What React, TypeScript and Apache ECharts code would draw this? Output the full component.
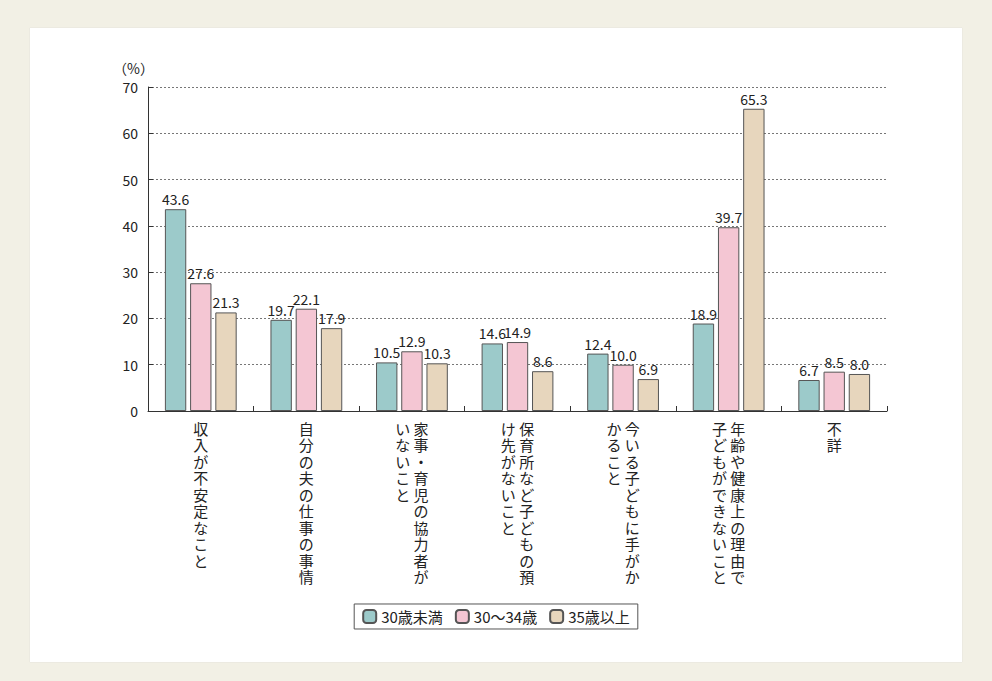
import { useEffect, useRef } from "react";
import * as echarts from "echarts";

const categories = [
  ["収入が不安定なこと"],
  ["自分の夫の仕事の事情"],
  ["家事・育児の協力者が", "いないこと"],
  ["保育所など子どもの預", "け先がないこと"],
  ["今いる子どもに手がか", "かること"],
  ["年齢や健康上の理由で", "子どもができないこと"],
  ["不詳"],
];
const seriesNames = ["30歳未満", "30～34歳", "35歳以上"];
const under30 = [43.6, 19.7, 10.5, 14.6, 12.4, 18.9, 6.7];
const age30to34 = [27.6, 22.1, 12.9, 14.9, 10.0, 39.7, 8.5];
const over35 = [21.3, 17.9, 10.3, 8.6, 6.9, 65.3, 8.0];
const colors = ["#9ccaca", "#f4c6d3", "#e7d6bd"];

// vertical text: right column is the first part, left column the second
function verticalLabel(parts: string[]) {
  const right = Array.from(parts[0]);
  const left = parts[1] ? Array.from(parts[1]) : null;
  return right
    .map((c, i) => (left ? (left[i] || "　") + " " + c : c))
    .join("\n");
}

export default function App() {
  const ref = useRef<HTMLDivElement | null>(null);

  useEffect(() => {
    if (!ref.current) return;
    document.body.style.margin = "0";
    const chart = echarts.init(ref.current, null, { renderer: "svg" });
    const font = "'Noto Sans CJK JP', sans-serif";
    const data = [under30, age30to34, over35];
    chart.setOption({
      animation: false,
      textStyle: { fontFamily: font },
      grid: { left: 148, right: 105, top: 87, bottom: 270 },
      legend: {
        bottom: 52,
        left: "center",
        itemWidth: 13,
        itemHeight: 13,
        itemGap: 12,
        borderColor: "#555",
        borderWidth: 1,
        padding: [5, 8],
        textStyle: { fontSize: 15, color: "#222", fontFamily: font },
        data: seriesNames,
      },
      xAxis: {
        type: "category",
        data: categories.map((c, i) => String(i)),
        axisLine: { lineStyle: { color: "#333" } },
        axisTick: { show: true, inside: true, length: 5, lineStyle: { color: "#333" } },
        axisLabel: {
          interval: 0,
          margin: 9,
          fontSize: 15,
          lineHeight: 16.5,
          color: "#222",
          verticalAlign: "top",
          formatter: (v: string) => verticalLabel(categories[Number(v)]),
        },
      },
      yAxis: {
        type: "value",
        min: 0,
        max: 70,
        interval: 10,
        name: "（%）",
        nameLocation: "end",
        nameGap: 12,
        nameTextStyle: { fontSize: 14, color: "#222", align: "right", padding: [0, -6, 0, 0] },
        axisLine: { show: true, lineStyle: { color: "#333" } },
        axisTick: { show: true, inside: true, length: 5, lineStyle: { color: "#333" } },
        axisLabel: { fontSize: 14, color: "#222", margin: 10 },
        splitLine: { lineStyle: { color: "#777", type: [2, 2] } },
      },
      series: seriesNames.map((name, k) => ({
        name,
        type: "bar",
        data: data[k],
        barGap: "18%",
        barCategoryGap: "32%",
        itemStyle: { color: colors[k], borderColor: "#555", borderWidth: 1 },
        label: {
          show: true,
          position: "top",
          distance: 3,
          fontSize: 14,
          color: "#222",
          formatter: (p: any) => p.value.toFixed(1),
        },
      })),
    });
    return () => chart.dispose();
  }, []);

  return (
    <div style={{ width: 992, height: 681, background: "#f2f0e5", position: "relative" }}>
      <div
        style={{
          position: "absolute",
          left: 30,
          top: 28,
          width: 932,
          height: 634,
          background: "#fff",
          boxShadow: "0 0 1px #ccc",
        }}
      />
      <div ref={ref} style={{ position: "absolute", left: 0, top: 0, width: 992, height: 681 }} />
    </div>
  );
}
